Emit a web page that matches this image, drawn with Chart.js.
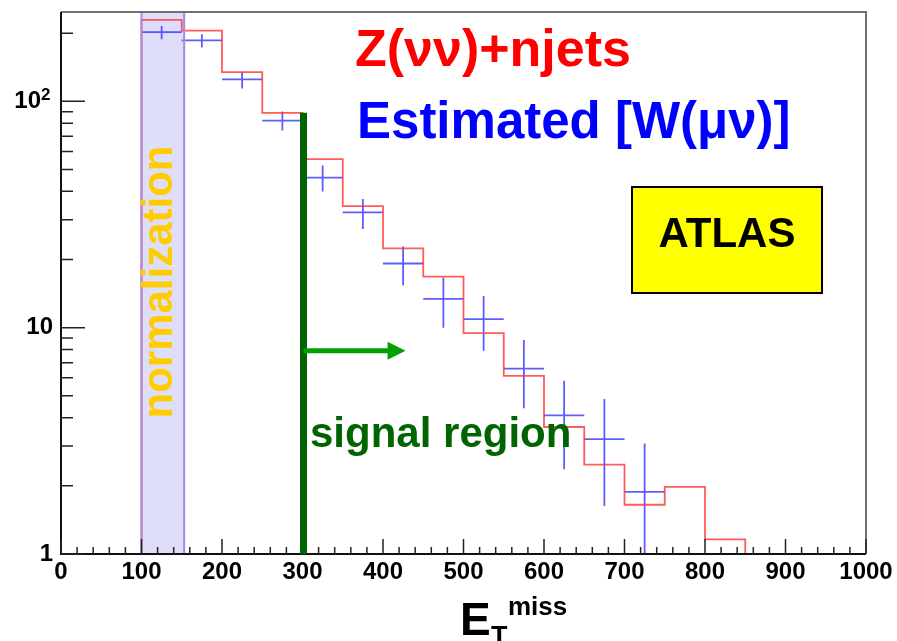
<!DOCTYPE html>
<html lang="en">

<head>
    <meta charset="UTF-8">
    <title>Z(νν)+njets vs W(μν) estimate</title>
    <script src="https://cdn.jsdelivr.net/npm/chart.js"></script>
    <style>
        html, body { margin: 0; padding: 0; background: #fff; }
        #wrap { width: 897px; height: 641px; position: relative; }
    </style>
</head>

<body>
    <div id="wrap">
        <canvas id="metChart"></canvas>
    </div>

    <script>
        // binning: 50 GeV bins from 0 to 1000
        const binEdges = [0, 50, 100, 150, 200, 250, 300, 350, 400, 450, 500,
            550, 600, 650, 700, 750, 800, 850, 900, 950, 1000];

        // Z(nunu)+njets histogram contents (empty bins = 0)
        const zNuNu = [0, 0, 229, 205, 134.5, 88.9, 55.5, 34.4, 22.4, 16.8,
            9.45, 6.12, 3.64, 2.48, 1.65, 1.98, 1.16, 0, 0, 0];

        // estimate from W(munu): bin centres, values and error bar ends
        const wCenters = [125, 175, 225, 275, 325, 375, 425, 475, 525, 575, 625, 675, 725];
        const wValues = [202, 186, 125, 82.2, 46, 32.3, 19.2, 13.4, 10.9, 6.59, 4.10, 3.22, 1.88];
        const wHigh = [215, 198, 135, 90.1, 52, 37, 22.8, 16.6, 13.8, 8.82, 5.83, 4.84, 3.08];
        const wLow = [188, 173, 114, 74.3, 39.9, 27.3, 15.4, 10, 7.91, 4.40, 2.37, 1.63, 1];
        const wHalfWidth = 25;

        const xTicks = [0, 100, 200, 300, 400, 500, 600, 700, 800, 900, 1000];
        const xTickLabels = ['0', '100', '200', '300', '400', '500', '600', '700', '800', '900', '1000'];
        const yTicks = [1, 10, 100];
        // 10^2 gets its exponent drawn separately, the space leaves room for it
        const yTickLabels = ['1', '10', '10\u2002'];

        const X_MIN = 0, X_MAX = 1000;
        const Y_MIN = 1, Y_MAX = 248;

        // normalization window and signal region cut
        const normRange = [100, 153];
        const signalCut = 300;
        const signalLineTop = 88.9;
        const arrowY = 7.9;
        const arrowEnd = 428;

        const FONT = '"Liberation Sans", Arial, Helvetica, sans-serif';

        // step outline of the histogram
        function histoPoints() {
            let pts = [];
            for (let i = 0; i < zNuNu.length; i++) {
                let v = Math.max(zNuNu[i], Y_MIN);
                pts.push({ x: binEdges[i], y: v });
                pts.push({ x: binEdges[i + 1], y: v });
            }
            return pts;
        }

        // crosses: horizontal bin width + vertical error, split by null gaps
        function crossPoints() {
            let pts = [];
            for (let i = 0; i < wCenters.length; i++) {
                let c = wCenters[i];
                pts.push({ x: c - wHalfWidth, y: wValues[i] });
                pts.push({ x: c + wHalfWidth, y: wValues[i] });
                pts.push({ x: c, y: null });
                pts.push({ x: c, y: wHigh[i] });
                pts.push({ x: c, y: wLow[i] });
                pts.push({ x: c, y: null });
            }
            return pts;
        }

        const decor = {
            id: 'decor',
            beforeDatasetsDraw(chart) {
                const ctx = chart.ctx;
                const a = chart.chartArea;
                const xs = chart.scales.x;
                let x0 = xs.getPixelForValue(normRange[0]);
                let x1 = xs.getPixelForValue(normRange[1]);
                ctx.save();
                ctx.fillStyle = '#dedefb';
                ctx.fillRect(x0, a.top, x1 - x0, a.bottom - a.top);
                ctx.restore();
            },
            afterDatasetsDraw(chart) {
                const ctx = chart.ctx;
                const a = chart.chartArea;
                const xs = chart.scales.x;
                const ys = chart.scales.y;
                ctx.save();

                // band outline
                let x0 = xs.getPixelForValue(normRange[0]);
                let x1 = xs.getPixelForValue(normRange[1]);
                ctx.strokeStyle = '#a58ae2';
                ctx.lineWidth = 2;
                ctx.strokeRect(x0, a.top, x1 - x0, a.bottom - a.top);

                // frame
                ctx.strokeStyle = '#707070';
                ctx.lineWidth = 2;
                ctx.beginPath();
                ctx.moveTo(a.left, a.top);
                ctx.lineTo(a.right, a.top);
                ctx.lineTo(a.right, a.bottom);
                ctx.stroke();
                ctx.strokeStyle = '#111';
                ctx.beginPath();
                ctx.moveTo(a.left, a.top);
                ctx.lineTo(a.left, a.bottom);
                ctx.lineTo(a.right, a.bottom);
                ctx.stroke();

                // ticks on the inside
                ctx.lineWidth = 1.5;
                ctx.strokeStyle = '#222';
                ctx.beginPath();
                for (let v = X_MIN; v <= X_MAX; v += 20) {
                    let px = xs.getPixelForValue(v);
                    let len = (v % 100 === 0) ? 15 : 7;
                    ctx.moveTo(px, a.bottom);
                    ctx.lineTo(px, a.bottom - len);
                }
                for (let d of yTicks) {
                    for (let k = 1; k <= 9; k++) {
                        let v = k * d;
                        if (v > Y_MAX) break;
                        let py = ys.getPixelForValue(v);
                        ctx.moveTo(a.left, py);
                        ctx.lineTo(a.left + (k === 1 ? 24 : 12), py);
                    }
                }
                ctx.stroke();

                // signal region cut
                let xc = xs.getPixelForValue(signalCut) + 1;
                ctx.strokeStyle = '#006400';
                ctx.lineWidth = 7;
                ctx.beginPath();
                ctx.moveTo(xc, ys.getPixelForValue(signalLineTop));
                ctx.lineTo(xc, a.bottom);
                ctx.stroke();

                // arrow into the signal region
                let ya = ys.getPixelForValue(arrowY);
                let xt = xs.getPixelForValue(arrowEnd);
                ctx.strokeStyle = '#00a000';
                ctx.fillStyle = '#00a000';
                ctx.lineWidth = 5;
                ctx.beginPath();
                ctx.moveTo(xc, ya);
                ctx.lineTo(xt - 16, ya);
                ctx.stroke();
                ctx.beginPath();
                ctx.moveTo(xt, ya);
                ctx.lineTo(xt - 18, ya - 9);
                ctx.lineTo(xt - 18, ya + 9);
                ctx.closePath();
                ctx.fill();
                ctx.restore();
            },
            afterDraw(chart) {
                const ctx = chart.ctx;
                const ys = chart.scales.y;
                ctx.save();
                ctx.textBaseline = 'alphabetic';

                // exponent of the 10^2 tick label
                ctx.fillStyle = '#000';
                ctx.font = 'bold 17px ' + FONT;
                ctx.fillText('2', 41, ys.getPixelForValue(100) - 1);

                ctx.font = 'bold 52px ' + FONT;
                ctx.fillStyle = '#ff0000';
                ctx.fillText('Z(νν)+njets', 355, 66);

                ctx.font = 'bold 51px ' + FONT;
                ctx.fillStyle = '#0000ff';
                ctx.fillText('Estimated [W(μν)]', 357, 138);

                // ATLAS label box
                ctx.fillStyle = '#ffff00';
                ctx.fillRect(632, 187, 190, 106);
                ctx.strokeStyle = '#000';
                ctx.lineWidth = 2;
                ctx.strokeRect(632, 187, 190, 106);
                ctx.fillStyle = '#000';
                ctx.font = 'bold 42px ' + FONT;
                ctx.textAlign = 'center';
                ctx.fillText('ATLAS', 727, 247);

                // normalization label, reading upward
                ctx.save();
                ctx.translate(172, 282);
                ctx.rotate(-Math.PI / 2);
                ctx.fillStyle = '#ffcc00';
                ctx.font = 'bold 42px ' + FONT;
                ctx.fillText('normalization', 0, 0);
                ctx.restore();

                ctx.textAlign = 'left';
                ctx.fillStyle = '#006400';
                ctx.font = 'bold 42px ' + FONT;
                ctx.fillText('signal region', 310, 447);

                // x axis title E_T^miss
                ctx.fillStyle = '#000';
                ctx.font = 'bold 46px ' + FONT;
                ctx.fillText('E', 460, 635);
                ctx.font = 'bold 27px ' + FONT;
                ctx.fillText('T', 491, 645);
                ctx.font = 'bold 26px ' + FONT;
                ctx.fillText('miss', 508, 615);
                ctx.restore();
            }
        };

        const ctx = document.getElementById('metChart').getContext('2d');
        new Chart(ctx, {
            type: 'line',
            data: {
                datasets: [{
                    label: 'Z(νν)+njets',
                    data: histoPoints(),
                    borderColor: 'rgba(255, 50, 50, 0.8)',
                    borderWidth: 1.8,
                    pointRadius: 0,
                    tension: 0,
                    fill: false
                }, {
                    label: 'Estimated [W(μν)]',
                    data: crossPoints(),
                    borderColor: 'rgba(40, 40, 255, 0.75)',
                    borderWidth: 1.8,
                    pointRadius: 0,
                    tension: 0,
                    spanGaps: false,
                    fill: false
                }]
            },
            options: {
                responsive: true,
                maintainAspectRatio: false,
                animation: false,
                layout: { padding: { left: 0, right: 31, top: 12, bottom: 0 } },
                plugins: {
                    legend: { display: false },
                    tooltip: { enabled: false }
                },
                scales: {
                    x: {
                        type: 'linear',
                        min: X_MIN,
                        max: X_MAX,
                        grid: { display: false, drawTicks: false },
                        border: { display: false },
                        afterBuildTicks: function (axis) {
                            axis.ticks = xTicks.map(function (v) { return { value: v }; });
                        },
                        afterFit: function (axis) {
                            axis.height = 87;
                            axis.paddingLeft = 0;
                            axis.paddingRight = 0;
                        },
                        ticks: {
                            color: '#000',
                            padding: 4,
                            maxRotation: 0,
                            font: { family: FONT, size: 24, weight: 'bold' },
                            callback: function (value) {
                                let i = xTicks.indexOf(value);
                                return i >= 0 ? xTickLabels[i] : '';
                            }
                        }
                    },
                    y: {
                        type: 'logarithmic',
                        min: Y_MIN,
                        max: Y_MAX,
                        grid: { display: false, drawTicks: false },
                        border: { display: false },
                        afterBuildTicks: function (axis) {
                            axis.ticks = yTicks.map(function (v) { return { value: v }; });
                        },
                        afterFit: function (axis) {
                            axis.width = 61;
                            axis.paddingTop = 0;
                            axis.paddingBottom = 0;
                        },
                        ticks: {
                            color: '#000',
                            padding: 8,
                            font: { family: FONT, size: 24, weight: 'bold' },
                            callback: function (value) {
                                let i = yTicks.indexOf(value);
                                return i >= 0 ? yTickLabels[i] : '';
                            }
                        }
                    }
                }
            },
            plugins: [decor]
        });
    </script>
</body>

</html>
